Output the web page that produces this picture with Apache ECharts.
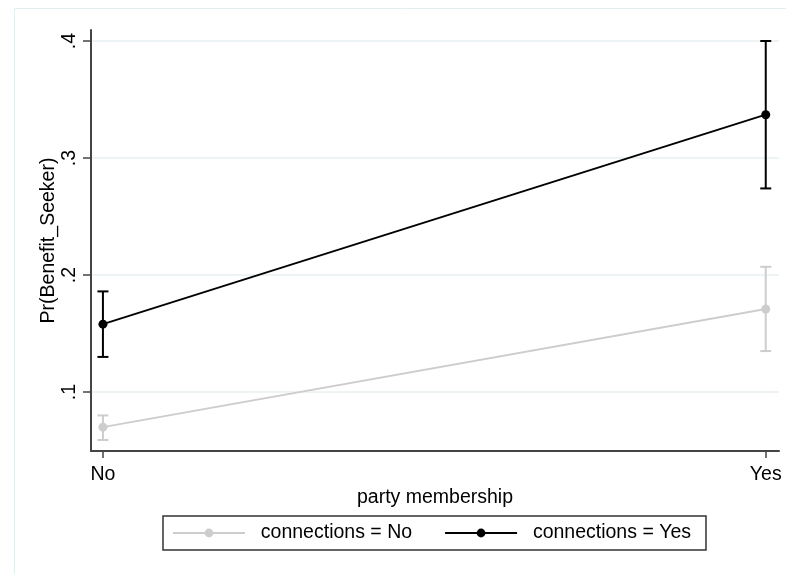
<!DOCTYPE html>
<html>
<head>
<meta charset="utf-8">
<script src="https://cdn.jsdelivr.net/npm/echarts@6/dist/echarts.min.js"></script>
<style>
html, body { margin: 0; padding: 0; background: #fff; }
#chart { width: 786px; height: 574px; }
</style>
</head>
<body>
<div id="chart"></div>
<script>
// party membership categories (x positions 0 / 1)
var partyLabels = ['No', 'Yes'];
var partyPos = [0, 1];
var yTicks = [0.1, 0.2, 0.3, 0.4];

// connections = No
var connNoMargin = [0.070, 0.171];
var connNoLower = [0.059, 0.135];
var connNoUpper = [0.080, 0.207];

// connections = Yes
var connYesMargin = [0.158, 0.337];
var connYesLower = [0.130, 0.274];
var connYesUpper = [0.186, 0.400];

var grayCol = '#cdcdcd';
var blackCol = '#000000';
var axisCol = '#444444';
var fnt = 'Liberation Sans, Arial, sans-serif';
var fsz = 19.5;

function pts(vals) {
    var out = [];
    for (var i = 0; i < vals.length; i++) {
        out.push([partyPos[i], vals[i]]);
    }
    return out;
}

function ciData(lo, hi) {
    var out = [];
    for (var i = 0; i < lo.length; i++) {
        out.push([partyPos[i], lo[i], hi[i]]);
    }
    return out;
}

function errBar(color, width) {
    return function (params, api) {
        var lo = api.coord([api.value(0), api.value(1)]);
        var hi = api.coord([api.value(0), api.value(2)]);
        var half = 5.5;
        var st = { stroke: color, lineWidth: width };
        return {
            type: 'group',
            children: [
                { type: 'line', shape: { x1: lo[0], y1: lo[1], x2: hi[0], y2: hi[1] }, style: st },
                { type: 'line', shape: { x1: lo[0] - half, y1: lo[1], x2: lo[0] + half, y2: lo[1] }, style: st },
                { type: 'line', shape: { x1: hi[0] - half, y1: hi[1], x2: hi[0] + half, y2: hi[1] }, style: st }
            ]
        };
    };
}

var myChart = echarts.init(document.getElementById('chart'), null, { renderer: 'canvas' });

var option = {
    backgroundColor: '#ffffff',
    animation: false,
    graphic: [{
        type: 'rect',
        shape: { x: 14.5, y: 8.5, width: 820, height: 620 },
        style: { fill: 'none', stroke: '#e3eef0', lineWidth: 1 },
        silent: true,
        z: -1
    }],
    grid: {
        left: 91,
        right: 7,
        top: 30,
        bottom: 123
    },
    legend: {
        data: ['connections = No', 'connections = Yes'],
        left: 163,
        top: 516,
        orient: 'horizontal',
        itemWidth: 72,
        itemHeight: 11,
        itemGap: 32,
        padding: [7, 15, 7, 9],
        borderColor: '#333',
        borderWidth: 1.5,
        formatter: function (name) { return '  ' + name; },
        textStyle: { fontFamily: fnt, fontSize: fsz, color: '#000' }
    },
    xAxis: {
        type: 'value',
        min: -0.018,
        max: 1.02,
        name: 'party membership',
        nameLocation: 'middle',
        nameGap: 37,
        nameMoveOverlap: false,
        nameTextStyle: { fontFamily: fnt, fontSize: fsz, color: '#000' },
        axisLine: { show: true, onZero: false, lineStyle: { color: axisCol, width: 2 } },
        axisTick: { show: true, length: 7, customValues: partyPos, lineStyle: { color: axisCol, width: 1.5 } },
        axisLabel: {
            customValues: partyPos,
            margin: 14,
            fontFamily: fnt,
            fontSize: fsz,
            color: '#000',
            formatter: function (v) { return partyLabels[Math.round(v)]; }
        },
        splitLine: { show: false }
    },
    yAxis: {
        type: 'value',
        min: 0.0496,
        max: 0.4094,
        name: 'Pr(Benefit_Seeker)',
        nameLocation: 'middle',
        nameGap: 32,
        nameMoveOverlap: false,
        nameTextStyle: { fontFamily: fnt, fontSize: fsz, color: '#000' },
        axisLine: { show: true, onZero: false, lineStyle: { color: axisCol, width: 2 } },
        axisTick: { show: true, length: 8, customValues: yTicks, lineStyle: { color: axisCol, width: 1.5 } },
        axisLabel: {
            customValues: yTicks,
            rotate: 90,
            margin: 11,
            fontFamily: fnt,
            fontSize: fsz,
            color: '#000',
            formatter: function (v) { return v.toFixed(1).replace(/^0/, ''); }
        },
        splitLine: { show: true, lineStyle: { color: '#e8f1f3', width: 1.5 } }
    },
    series: [
        {
            type: 'custom',
            renderItem: errBar(grayCol, 2),
            data: ciData(connNoLower, connNoUpper),
            encode: { x: 0, y: [1, 2] },
            z: 2
        },
        {
            name: 'connections = No',
            type: 'line',
            data: pts(connNoMargin),
            symbol: 'circle',
            symbolSize: 9,
            itemStyle: { color: grayCol },
            lineStyle: { color: grayCol, width: 2 },
            z: 3
        },
        {
            type: 'custom',
            renderItem: errBar(blackCol, 2),
            data: ciData(connYesLower, connYesUpper),
            encode: { x: 0, y: [1, 2] },
            z: 4
        },
        {
            name: 'connections = Yes',
            type: 'line',
            data: pts(connYesMargin),
            symbol: 'circle',
            symbolSize: 9,
            itemStyle: { color: blackCol },
            lineStyle: { color: blackCol, width: 1.8 },
            z: 5
        }
    ]
};

myChart.setOption(option);
</script>
</body>
</html>
